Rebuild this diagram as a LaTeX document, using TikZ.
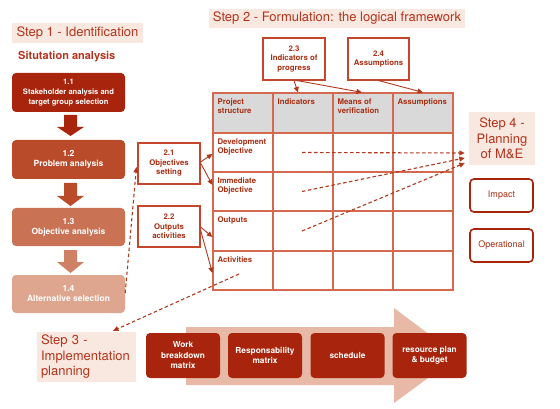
\documentclass[tikz,border=0pt]{standalone}
\usepackage{fontspec}
\setmainfont{TeX Gyre Heros}
\usetikzlibrary{arrows.meta,calc}
\definecolor{dred}{HTML}{A8240C}
\definecolor{redb}{HTML}{BA4B2A}
\definecolor{redc}{HTML}{CA7354}
\definecolor{redd}{HTML}{DEA68E}
\definecolor{steptxt}{HTML}{B3331C}
\definecolor{stepbg}{HTML}{F8E8DF}
\definecolor{tline}{HTML}{D4694F}
\definecolor{thead}{HTML}{D9D9D9}
\definecolor{ttxt}{HTML}{A82E12}
\definecolor{bline}{HTML}{C4462C}
\definecolor{conn}{HTML}{B0381C}
\definecolor{bigarrow}{HTML}{E8B9A6}
\newcommand\blkarrow[4]{\fill[#4] (64,#1) -- (77,#1) -- (77,#2) -- (84,#2) -- (70.5,#3) -- (57,#2) -- (64,#2) -- cycle;}
\begin{document}
\begin{tikzpicture}[x=1pt,y=-1pt,
  stepl/.style={fill=stepbg, text=steptxt, font=\fontsize{13}{15.5}\selectfont, inner sep=0pt},
  sbox/.style={rounded corners=4pt, text=white, align=center, minimum width=113pt, minimum height=39pt, inner sep=0pt, font=\fontsize{8.5}{10}\selectfont\bfseries},
  fbox/.style={draw=bline, line width=1.1pt, text=ttxt, align=center, inner sep=0pt, font=\fontsize{7.8}{9.5}\selectfont\bfseries},
  cell/.style={draw=tline, line width=1.2pt, minimum width=60pt, inner sep=0pt},
  ctext/.style={anchor=north west, inner sep=0pt, align=left, text=ttxt, font=\fontsize{7.8}{9.2}\selectfont\bfseries},
  mebox/.style={draw=dred, line width=1.6pt, rounded corners=4pt, minimum width=63pt, minimum height=33pt, text=ttxt, font=\fontsize{9}{11}\selectfont},
  wbox/.style={fill=dred, rounded corners=4pt, text=white, align=center, minimum width=74pt, minimum height=45pt, inner sep=0pt, font=\fontsize{8.3}{10.5}\selectfont\bfseries},
  conn/.style={draw=conn, line width=0.9pt, -{Triangle[length=5.5pt,width=5pt]}},
  dconn/.style={conn, line width=1.1pt, dash pattern=on 3.5pt off 2.5pt}]
\useasboundingbox[fill=white] (0,0) rectangle (560,409);

% Step labels
\node[stepl, minimum width=131pt, minimum height=20pt] (s1) at (77.5,33) {Step 1 - Identification};
\node[anchor=west, inner sep=0pt, text=steptxt, font=\fontsize{11}{13}\selectfont\bfseries] (sa) at (18,56.5) {Situtation analysis};
\node[stepl, minimum width=256pt, minimum height=19pt] (s2) at (337,18.5) {Step 2 - Formulation: the logical framework};
\node[stepl, minimum width=66pt, minimum height=53pt, align=center] (s4) at (502,138.5) {Step 4 -\\Planning\\of M\&E};
\node[stepl, minimum height=50pt, text width=91pt, inner xsep=4pt, align=left] (s3) at (86.5,357) {Step 3 -\\Implementation\\planning};

% Step 1 boxes
\node[sbox, fill=dred, font=\fontsize{7.6}{10}\selectfont\bfseries] (b11) at (68.5,92.5) {1.1\\Stakeholder analysis and\\target group selection};
\node[sbox, fill=redb] (b12) at (68.5,159.5) {1.2\\Problem analysis};
\node[sbox, fill=redc, minimum height=38pt] (b13) at (68.5,227) {1.3\\Objective analysis};
\node[sbox, fill=redd, minimum height=38pt] (b14) at (68.5,294) {1.4\\Alternative selection};
\blkarrow{115}{127}{136}{dred}
\blkarrow{183}{196}{206}{redb}
\blkarrow{250}{262}{273}{redc!90!white}

% Step 2 boxes
\node[fbox, minimum width=62pt, minimum height=41pt] (b21) at (169,163.5) {2.1\\Objectives\\setting};
\node[fbox, minimum width=62pt, minimum height=41pt] (b22) at (169,226.5) {2.2\\Outputs\\activities};
\node[fbox, minimum width=62pt, minimum height=42pt] (b23) at (294,59) {2.3\\Indicators of\\progress};
\node[fbox, minimum width=61pt, minimum height=42pt] (b24) at (378.5,59) {2.4\\Assumptions};

% Table
\foreach \c/\x in {1/243,2/303,3/363,4/423}{
  \node[cell, fill=thead, minimum height=40pt] (t1\c) at (\x,113) {};
  \node[cell, minimum height=39pt] (t2\c) at (\x,152.5) {};
  \node[cell, minimum height=39pt] (t3\c) at (\x,191.5) {};
  \node[cell, minimum height=40pt] (t4\c) at (\x,231) {};
  \node[cell, minimum height=39pt] (t5\c) at (\x,270.5) {};
}
\node[ctext] (l11) at ([xshift=5pt,yshift=-6pt]t11.north west) {Project\\structure};
\node[ctext] (l12) at ([xshift=5pt,yshift=-6pt]t12.north west) {Indicators};
\node[ctext] (l13) at ([xshift=5pt,yshift=-6pt]t13.north west) {Means of\\verification};
\node[ctext] (l14) at ([xshift=5pt,yshift=-6pt]t14.north west) {Assumptions};
\node[ctext] (l21) at ([xshift=5pt,yshift=-6pt]t21.north west) {Development\\Objective};
\node[ctext] (l31) at ([xshift=5pt,yshift=-6pt]t31.north west) {Immediate\\Objective};
\node[ctext] (l41) at ([xshift=5pt,yshift=-6pt]t41.north west) {Outputs};
\node[ctext] (l51) at ([xshift=5pt,yshift=-6pt]t51.north west) {Activities};

% Step 4 boxes
\node[mebox] (imp) at (501.5,195.5) {Impact};
\node[mebox] (ope) at (501.5,245.5) {Operational};

% Big arrow and step 3 boxes
\fill[bigarrow] (186,327) -- (394,327) -- (394,308) -- (458,356) -- (394,403) -- (394,385) -- (186,385) -- cycle;
\node[wbox] (w1) at (183,355.5) {Work\\breakdown\\matrix};
\node[wbox] (w2) at (265,355.5) {Responsability\\matrix};
\node[wbox] (w3) at (347.5,355.5) {schedule};
\node[wbox] (w4) at (429.5,355.5) {resource plan\\\& budget};

% Connectors
\draw[conn] ([yshift=1.5pt]b21.east) -- ([yshift=-1.5pt]t21.west);
\draw[conn] ([yshift=0.5pt]b21.east) -- ([yshift=6.5pt]t31.west);
\draw[conn] ([yshift=-0.5pt]b22.east) -- ([yshift=-6pt]t41.west);
\draw[conn] ([yshift=-3.5pt]b22.east) -- ([yshift=-2.5pt]t51.west);
\draw[conn] (b23.south) -- ([xshift=-5pt]t12.north);
\draw[conn] ([xshift=3pt]b23.south) -- ([xshift=-1pt]t13.north);
\draw[conn] (b24.south) -- (t14.north);

\draw[dconn] ([xshift=-1pt]t22.center) -- ([xshift=-4pt,yshift=-14.5pt]s4.west);
\draw[dconn] ([xshift=-1pt]t32.center) -- ([xshift=-4pt,yshift=-19.5pt]s4.west);
\draw[dconn] ([xshift=-1pt]t42.center) -- ([xshift=-4pt,yshift=-24.5pt]s4.west);
\draw[dconn] ([yshift=1pt]b14.east) -- ([xshift=-1pt,yshift=-3.5pt]b21.west);
\draw[dconn] ([xshift=-4pt,yshift=-3.5pt]t51.center) -- ([xshift=26.5pt,yshift=1pt]s3.north);
\end{tikzpicture}
\end{document}
